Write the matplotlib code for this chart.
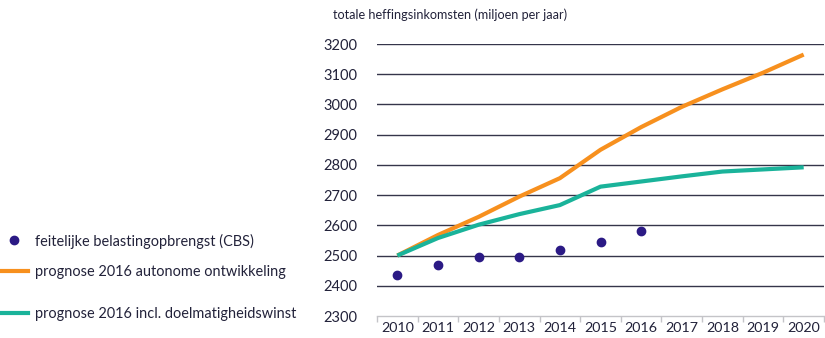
import matplotlib
matplotlib.use("Agg")
import matplotlib.pyplot as plt
from matplotlib.lines import Line2D

years = [2010, 2011, 2012, 2013, 2014, 2015, 2016, 2017, 2018, 2019, 2020]
actual_years = [2010, 2011, 2012, 2013, 2014, 2015, 2016]
actual = [2435, 2470, 2495, 2495, 2518, 2545, 2580]
autonomous = [2500, 2568, 2628, 2695, 2756, 2850, 2925, 2992, 3050, 3105, 3165]
efficiency = [2500, 2558, 2602, 2637, 2667, 2728, 2745, 2762, 2778, 2785, 2792]
y_ticks = [2300, 2400, 2500, 2600, 2700, 2800, 2900, 3000, 3100, 3200]

title = "totale heffingsinkomsten (miljoen per jaar)"
label_actual = "feitelijke belastingopbrengst (CBS)"
label_auto = "prognose 2016 autonome ontwikkeling"
label_eff = "prognose 2016 incl. doelmatigheidswinst"

c_points = "#2b1a85"
c_orange = "#f7901e"
c_green = "#1ab39a"
c_text = "#22223a"

plt.rcParams["font.family"] = ["Lato", "DejaVu Sans"]

W, H = 825, 338
fig = plt.figure(figsize=(W / 100, H / 100), dpi=100)
ax = fig.add_axes([377 / W, 1 - 316 / H, (824 - 377) / W, (316 - 44) / H])

ax.set_xlim(years[0] - 0.5, years[-1] + 0.5)
ax.set_ylim(y_ticks[0], y_ticks[-1])

for v in y_ticks[1:]:
    ax.axhline(v, color="#35354a", lw=1.0, zorder=1)

ax.plot(years, autonomous, color=c_orange, lw=3.0, solid_capstyle="butt", zorder=3)
ax.plot(years, efficiency, color=c_green, lw=3.0, solid_capstyle="butt", zorder=4)
ax.plot(actual_years, actual, ls="none", marker="o", ms=6, color=c_points, zorder=5)

for s in ["top", "right", "left"]:
    ax.spines[s].set_visible(False)
ax.spines["bottom"].set_color("#c4c4c8")
ax.spines["bottom"].set_linewidth(1.0)

ax.set_yticks(y_ticks)
ax.set_yticklabels([str(v) for v in y_ticks])
ax.tick_params(axis="y", length=0, pad=14, labelsize=10.5, labelcolor=c_text)

ax.set_xticks(years)
ax.set_xticklabels([str(y) for y in years])
ax.set_xticks([y - 0.5 for y in years] + [years[-1] + 0.5], minor=True)
ax.tick_params(axis="x", which="major", length=0, pad=4, labelsize=10.3, labelcolor=c_text)
ax.tick_params(axis="x", which="minor", length=4, width=1, color="#c4c4c8")

fig.text(333 / W, 1 - 15 / H, title, ha="left", va="center", fontsize=9.1, color=c_text)

entries = [
    (Line2D([], [], ls="none", marker="o", ms=6, color=c_points), label_actual, 241),
    (Line2D([], [], color=c_orange, lw=3.0), label_auto, 272),
    (Line2D([], [], color=c_green, lw=3.0), label_eff, 314),
]
for handle, text, ypx in entries:
    fig.legend([handle], [text], loc="center left",
               bbox_to_anchor=(0 / W, 1 - ypx / H), frameon=False,
               handlelength=1.9, handletextpad=0.5, borderpad=0,
               borderaxespad=0, fontsize=10.45, labelcolor=c_text)

fig.savefig("out.png", dpi=100)
